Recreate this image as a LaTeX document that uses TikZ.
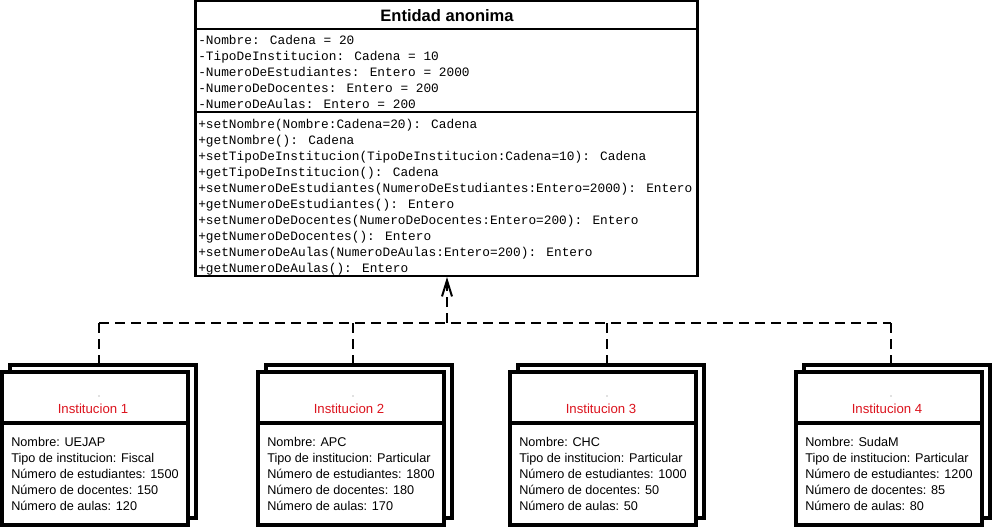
\documentclass[tikz,border=0pt]{standalone}
\usepackage{fontspec}
\setmainfont{Liberation Sans}
\newfontfamily\monof{Liberation Mono}
\usetikzlibrary{arrows.meta}
\definecolor{titlered}{RGB}{220,20,30}
\tikzset{
  classbox/.style={draw=black, line width=1.6pt, fill=white, rectangle, inner sep=0pt,
    minimum width=376.5pt, minimum height=206.25pt},
  frontbox/.style={draw=black, line width=3pt, fill=white, rectangle, inner sep=0pt,
    minimum width=139.5pt, minimum height=114.75pt},
  backbox/.style={frontbox},
  divider/.style={draw=black, line width=3pt},
  thindivider/.style={draw=black, line width=1.6pt},
  mono/.style={font=\monof\fontsize{9.6}{12}\selectfont, inner sep=0pt, anchor=base west},
  ctitle/.style={font=\bfseries\fontsize{12.4}{14}\selectfont, inner sep=0pt, anchor=base},
  btext/.style={font=\fontsize{9.5}{12}\selectfont, inner sep=0pt, anchor=base west},
  rtitle/.style={font=\fontsize{9.9}{12}\selectfont, text=titlered, inner sep=0pt, anchor=base},
  dep/.style={draw=black, line width=1.6pt, dash pattern=on 7.5pt off 4.5pt},
  realize/.style={dep, -{Straight Barb[length=12pt,width=7.5pt,line width=1.5pt]}},
}
\begin{document}
\begin{tikzpicture}[x=0.75pt,y=-0.75pt]
\useasboundingbox (0,0) rectangle (992,529);

% main class
\node[classbox] (main) at (446.5,138.5) {};
\draw[thindivider] (195.5,28.7) -- (697.5,28.7);
\draw[thindivider] (195.5,112.2) -- (697.5,112.2);
\node[ctitle] (title) at (447,21) {Entidad anonima};
\node[mono] (a1) at (198,44.5) {-Nombre: Cadena = 20};
\node[mono] (a2) at (198,60.5) {-TipoDeInstitucion: Cadena = 10};
\node[mono] (a3) at (198,76.5) {-NumeroDeEstudiantes: Entero = 2000};
\node[mono] (a4) at (198,92.5) {-NumeroDeDocentes: Entero = 200};
\node[mono] (a5) at (198,108.5) {-NumeroDeAulas: Entero = 200};
\node[mono] (m1) at (198,128) {+setNombre(Nombre:Cadena=20): Cadena};
\node[mono] (m2) at (198,144) {+getNombre(): Cadena};
\node[mono] (m3) at (198,160) {+setTipoDeInstitucion(TipoDeInstitucion:Cadena=10): Cadena};
\node[mono] (m4) at (198,176) {+getTipoDeInstitucion(): Cadena};
\node[mono] (m5) at (198,192) {+setNumeroDeEstudiantes(NumeroDeEstudiantes:Entero=2000): Entero};
\node[mono] (m6) at (198,208) {+getNumeroDeEstudiantes(): Entero};
\node[mono] (m7) at (198,224) {+setNumeroDeDocentes(NumeroDeDocentes:Entero=200): Entero};
\node[mono] (m8) at (198,240) {+getNumeroDeDocentes(): Entero};
\node[mono] (m9) at (198,256) {+setNumeroDeAulas(NumeroDeAulas:Entero=200): Entero};
\node[mono] (m10) at (198,272) {+getNumeroDeAulas(): Entero};

% institution boxes
\foreach \i/\cx/\n/\t/\e/\d/\a/\sx in {1/95/UEJAP/Fiscal/1500/150/120/99,
    2/351/APC/Particular/1800/180/170/353,
    3/603/CHC/Particular/1000/50/50/607,
    4/889/SudaM/Particular/1200/85/80/891}{
  \node[backbox] (k\i) at (\cx+7.5,441.5) {};
  \node[frontbox] (b\i) at (\cx,448.5) {};
  \draw[divider] (\cx-93,423) -- (\cx+93,423);
  \fill[gray] (\sx,396) circle (0.6);
  \node[rtitle] (t\i) at (\cx-2,413) {Institucion \i};
  \node[btext] (n\i) at (\cx-84,446.5) {Nombre: \n};
  \node[btext] (p\i) at (\cx-84,462.5) {Tipo de institucion: \t};
  \node[btext] (e\i) at (\cx-84,478.5) {Número de estudiantes: \e};
  \node[btext] (d\i) at (\cx-84,494.5) {Número de docentes: \d};
  \node[btext] (u\i) at (\cx-84,510.5) {Número de aulas: \a};
  \coordinate (s\i) at (\sx,323);
}

% connectors
\coordinate (j) at (447,323);
\draw[dep] (s1) -- (s4);
\foreach \i in {1,2,3,4}{
  \draw[dep] (s\i) -- (s\i |- k\i.north);
}
\draw[realize] (j) -- (j |- main.south);
\end{tikzpicture}
\end{document}
